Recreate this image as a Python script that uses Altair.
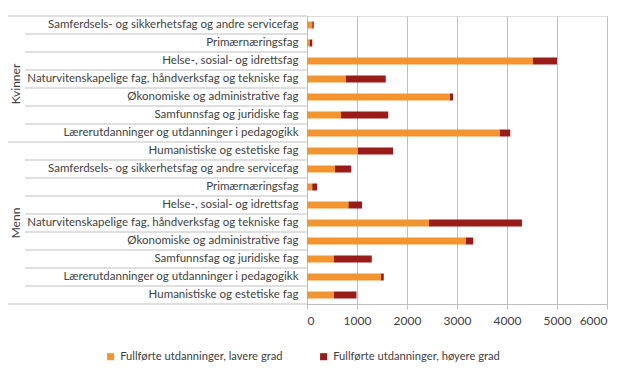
import altair as alt
import pandas as pd

groups = ["Kvinner"] * 7 + ["Menn"] * 9
categories = [
    "Samferdsels- og sikkerhetsfag og andre servicefag",
    "Primærnæringsfag",
    "Helse-, sosial- og idrettsfag",
    "Naturvitenskapelige fag, håndverksfag og tekniske fag",
    "Økonomiske og administrative fag",
    "Samfunnsfag og juridiske fag",
    "Lærerutdanninger og utdanninger i pedagogikk",
    "Humanistiske og estetiske fag",
    "Samferdsels- og sikkerhetsfag og andre servicefag",
    "Primærnæringsfag",
    "Helse-, sosial- og idrettsfag",
    "Naturvitenskapelige fag, håndverksfag og tekniske fag",
    "Økonomiske og administrative fag",
    "Samfunnsfag og juridiske fag",
    "Lærerutdanninger og utdanninger i pedagogikk",
    "Humanistiske og estetiske fag",
]
lavere = [105, 55, 4520, 775, 2860, 680, 3855, 1020, 560, 105, 830, 2440, 3175, 540, 1480, 540]
hoyere = [30, 50, 480, 800, 60, 945, 210, 700, 325, 95, 270, 1860, 150, 755, 55, 450]
series = ["Fullførte utdanninger, lavere grad", "Fullførte utdanninger, høyere grad"]
colors = ["#F29530", "#9A1C1A"]
x_ticks = [0, 1000, 2000, 3000, 4000, 5000, 6000]

row_ids = [f"{i:02d}|{c}" for i, c in enumerate(categories)]

rows = pd.DataFrame({
    "row": row_ids,
    "group": groups,
    "first": [i == 0 or groups[i] != groups[i - 1] for i in range(len(groups))],
    "last": [i == len(groups) - 1 for i in range(len(groups))],
    "mid": [i in (3, 11) for i in range(len(groups))],
})

recs = []
for i, r in enumerate(row_ids):
    recs.append({"row": r, "series": series[0], "value": lavere[i], "ord": 0})
    recs.append({"row": r, "series": series[1], "value": hoyere[i], "ord": 1})
bars_df = pd.DataFrame(recs)

GRAY = "#BFBFBF"
TXT = "#404040"
FONT = "Lato"

y_enc = alt.Y(
    "row:N", sort=row_ids, title=None,
    scale=alt.Scale(paddingInner=0, paddingOuter=0),
    axis=alt.Axis(labelExpr="split(datum.value, '|')[1]", ticks=False, domainColor=GRAY,
                  labelPadding=9, labelLimit=400, labelFontSize=11.5, labelColor=TXT, labelFont=FONT),
)

bars = alt.Chart(bars_df).mark_bar(size=7).encode(
    x=alt.X("value:Q", stack="zero", title=None,
            scale=alt.Scale(domain=[0, 6000], nice=False),
            axis=alt.Axis(values=x_ticks, format="d", grid=True, gridColor=GRAY, domainColor=GRAY,
                          tickColor=GRAY, tickSize=5, labelPadding=6, labelFontSize=12,
                          labelColor=TXT, labelFont=FONT)),
    y=y_enc,
    color=alt.Color("series:N", scale=alt.Scale(domain=series, range=colors),
                    legend=alt.Legend(title=None, orient="none", legendX=-202, legendY=335,
                                      direction="horizontal", symbolType="square",
                                      symbolSize=50, labelFontSize=11.2, labelColor=TXT,
                                      labelFont=FONT, columnPadding=35, labelLimit=400)),
    order=alt.Order("ord:Q", sort="ascending"),
)

short_rules = alt.Chart(rows).transform_filter("!datum.first").mark_rule(color=GRAY).encode(
    y=alt.Y("row:N", sort=row_ids, bandPosition=0),
    x=alt.value(-282), x2=alt.value(0),
)
long_rules = alt.Chart(rows).transform_filter("datum.first").mark_rule(color=GRAY).encode(
    y=alt.Y("row:N", sort=row_ids, bandPosition=0),
    x=alt.value(-299), x2=alt.value(0),
)
bottom_rule = alt.Chart(rows).transform_filter("datum.last").mark_rule(color=GRAY).encode(
    y=alt.Y("row:N", sort=row_ids, bandPosition=1),
    x=alt.value(-299), x2=alt.value(0),
)
text_k = alt.Chart(rows).transform_filter("datum.mid && datum.group == 'Kvinner'").mark_text(
    angle=270, fontSize=12, color=TXT, font=FONT, align="center", baseline="middle", dx=-5
).encode(
    y=alt.Y("row:N", sort=row_ids),
    x=alt.value(-291),
    text="group:N",
)
text_m = alt.Chart(rows).transform_filter("datum.mid && datum.group == 'Menn'").mark_text(
    angle=270, fontSize=12, color=TXT, font=FONT, align="center", baseline="middle"
).encode(
    y=alt.Y("row:N", sort=row_ids),
    x=alt.value(-291),
    text="group:N",
)

chart = alt.layer(bars, short_rules, long_rules, bottom_rule, text_k, text_m).properties(
    width=300, height=288,
    autosize=alt.AutoSizeParams(type="none"),
    padding={"left": 299, "top": 8, "right": 5, "bottom": 66},
).configure_view(stroke=None).configure(font=FONT)

chart.save("out.html", embed_options={"renderer": "svg", "actions": False})
